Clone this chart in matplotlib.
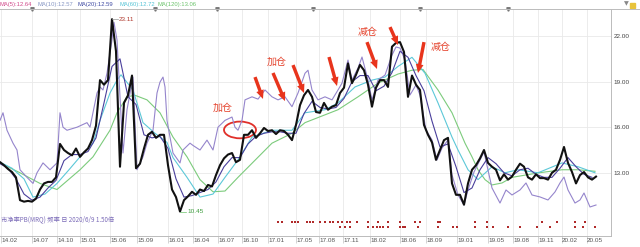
import matplotlib.pyplot as plt
import matplotlib.patches as mpatches
import matplotlib.transforms as mtransforms
import numpy as np

plt.rcParams['font.family'] = ['Noto Sans CJK SC', 'DejaVu Sans']

# 市净率 PB 主线 (每个点间隔 4 个单位)
pb = [13.7, 13.5, 13.25, 13.05, 12.7, 11.2, 11.1, 11.15, 11.1, 11.3,
      11.9, 12.3, 12.4, 12.4, 12.7, 14.9, 14.5, 14.3, 14.15, 14.6,
      14.05, 14.35, 14.6, 15.15, 16.1, 19.1, 18.8, 19.1, 23.11, 21.0,
      13.4, 17.6, 18.1, 19.4, 13.3, 13.6, 14.6, 15.5, 15.7, 15.3,
      15.5, 15.5, 13.5, 11.9, 11.4, 10.45, 11.2, 11.45, 11.75, 11.55,
      11.9, 11.8, 12.2, 12.1, 12.85, 13.5, 13.95, 14.2, 14.3, 13.7,
      13.85, 15.5, 15.5, 15.8, 15.3, 15.6, 15.95, 15.75, 15.8, 15.55,
      15.8, 15.75, 15.5, 15.15, 16.15, 17.45, 18.1, 18.45, 18.0, 17.0,
      16.95, 17.6, 17.15, 17.35, 17.45, 18.25, 18.6, 20.2, 18.9, 19.45,
      20.1, 19.75, 18.8, 17.35, 18.6, 19.1, 19.1, 18.65, 21.3, 21.55,
      21.6, 20.95, 18.0, 19.4, 18.8, 18.45, 16.15, 15.5, 15.0, 13.85,
      14.5, 15.15, 15.3, 12.3, 11.55, 11.55, 10.9, 12.3, 13.2, 13.5,
      13.95, 14.5, 13.65, 13.4, 13.2, 12.5, 12.9, 12.55, 12.75, 13.2,
      13.6, 13.4, 12.7, 12.55, 12.9, 12.65, 12.65, 12.55, 13.0, 13.2,
      13.85, 14.7, 13.65, 13.05, 12.3, 12.85, 13.05, 12.7, 12.55, 12.75]
t_pb = np.arange(len(pb)) * 4

# MA20 (每 8 个单位)
ma20 = [13.6, 13.3, 12.6, 11.6, 11.2, 11.4, 12.0, 12.5, 13.8, 14.2,
        14.2, 14.4, 15.3, 17.6, 20.0, 20.5, 18.0, 17.5, 15.5, 15.3,
        15.4, 14.6, 12.6, 11.4, 11.5, 11.7, 11.9, 12.4, 13.4, 14.0,
        14.0, 14.9, 15.4, 15.6, 15.7, 15.7, 15.6, 15.6, 16.9, 17.7,
        17.3, 17.2, 17.3, 17.9, 19.0, 19.4, 19.4, 18.4, 18.7, 19.6,
        21.0, 20.6, 19.4, 18.4, 16.4, 14.7, 14.9, 13.4, 11.7, 12.0,
        13.2, 14.0, 13.6, 13.0, 12.8, 13.2, 13.3, 12.9, 12.7, 12.7,
        13.3, 14.0, 13.4, 12.9, 12.7]
t_ma20 = np.arange(len(ma20)) * 8

t_ma60 = [0, 12, 24, 33, 45, 57, 69, 80, 93, 100,
          110, 117, 121, 133, 143, 155, 167, 173, 187, 200,
          213, 225, 238, 252, 272, 292, 305, 325, 338, 355,
          372, 385, 398, 412, 425, 438, 452, 458, 468, 478,
          492, 505, 518, 538, 562, 578, 595]
ma60 = [13.7, 13.3, 12.6, 11.4, 11.6, 12.3, 13.2, 14.05, 14.95, 16.45,
        18.25, 19.1, 19.45, 18.45, 16.3, 15.6, 15.0, 14.0, 12.7, 11.4,
        11.6, 12.7, 13.85, 15.35, 15.8, 15.8, 16.95, 17.15, 17.6, 18.65,
        19.1, 19.3, 20.0, 20.6, 19.55, 17.6, 15.35, 14.5, 13.2, 12.55,
        13.4, 13.0, 13.2, 13.0, 13.65, 13.4, 13.0]

t_ma120 = [0, 20, 40, 57, 80, 93, 110, 117, 127, 135,
           147, 160, 173, 187, 200, 213, 225, 238, 272, 292,
           305, 338, 358, 378, 398, 412, 423, 438, 452, 465,
           472, 478, 485, 492, 502, 512, 538, 562, 578, 595]
ma120 = [13.65, 13.0, 12.3, 11.9, 13.2, 14.05, 15.8, 16.95, 18.0, 18.1,
         17.8, 16.95, 15.35, 14.05, 12.55, 11.75, 11.8, 12.7, 14.95, 15.6,
         16.3, 17.15, 18.0, 18.9, 19.5, 19.75, 19.8, 18.45, 16.95, 14.95,
         14.05, 13.2, 12.55, 12.2, 12.33, 12.7, 12.99, 13.2, 13.2, 13.1]

# 指数 PB (浅紫线)
t_idx = [0, 3, 7, 13, 17, 20, 27, 33, 37, 43,
         50, 57, 60, 63, 67, 77, 87, 90, 97, 100,
         103, 107, 112, 114, 117, 120, 123, 127, 133, 137,
         143, 147, 153, 157, 160, 163, 165, 167, 170, 173,
         180, 183, 190, 193, 200, 207, 213, 218, 225, 232,
         235, 238, 242, 245, 252, 258, 265, 272, 278, 285,
         292, 298, 305, 308, 312, 318, 325, 332, 338, 342,
         348, 352, 358, 362, 368, 372, 378, 385, 392, 396,
         400, 405, 410, 416, 420, 426, 432, 437, 442, 448,
         452, 458, 464, 468, 474, 480, 484, 488, 492, 500,
         506, 512, 520, 526, 532, 540, 548, 555, 560, 564,
         568, 575, 580, 584, 590, 596]
idx_pb = [16.45, 16.95, 15.8, 14.95, 14.5, 13.2, 12.7, 12.3, 13.0, 13.65,
          13.2, 13.65, 16.95, 16.0, 15.8, 16.0, 16.3, 16.0, 18.25, 18.65,
          18.45, 19.55, 21.75, 22.9, 21.75, 18.0, 14.3, 17.15, 19.3, 13.2,
          14.05, 14.95, 15.8, 18.25, 18.97, 19.3, 18.65, 16.45, 15.35, 14.3,
          13.65, 14.5, 14.95, 14.8, 14.5, 15.15, 14.5, 16.0, 16.45, 16.67,
          16.0, 15.8, 16.45, 17.8, 18.0, 17.85, 18.45, 18.0, 17.8, 18.0,
          17.35, 18.25, 19.55, 19.75, 18.45, 17.8, 18.0, 17.8, 18.45, 18.9,
          20.42, 19.11, 19.89, 20.62, 19.11, 17.79, 19.11, 19.43, 20.75, 21.28,
          21.21, 20.42, 18.12, 18.78, 18.12, 15.82, 15.16, 13.84, 14.63, 15.16,
          12.86, 11.54, 10.88, 11.87, 13.05, 13.84, 14.37, 13.18, 12.0, 11.01,
          11.87, 11.54, 11.87, 12.33, 11.54, 11.41, 11.21, 11.74, 12.33, 12.72,
          11.87, 11.01, 11.21, 11.67, 10.75, 10.88]

# 底部信号点
sig_row1 = [278, 282, 292, 295, 298, 307, 310, 313, 320, 325, 330, 333, 338,
            342, 347, 350, 357, 368, 378, 388, 400, 415, 420, 438, 440, 475,
            487, 542, 557, 575, 585]
sig_row2 = [340, 345, 350, 368, 373, 377, 380, 383, 388, 400, 403, 405, 418,
            438, 453, 457, 475, 487, 493, 508, 520, 537, 550, 575, 583, 595]
top_marks = [32, 155, 217, 313, 420, 508]

tick_pos = [1, 32, 57, 80, 110, 137, 168, 193, 218, 242, 268, 296, 319, 343,
            370, 400, 426, 457, 488, 513, 538, 562, 587]
tick_labels = ['14.02', '14.07', '14.10', '15.01', '15.06', '15.09', '16.01',
               '16.04', '16.07', '16.10', '17.01', '17.05', '17.08', '17.11',
               '18.02', '18.06', '18.09', '19.01', '19.05', '19.08', '19.11',
               '20.02', '20.05']
y_ticks = [13, 16, 19, 22]

legend_text = ['MA(5):12.64', 'MA(10):12.57', 'MA(20):12.59', 'MA(60):12.72', 'MA(120):13.06']
legend_col = ['#d14a8b', '#8797c4', '#3f4aa3', '#55c4d6', '#6cc36c']

fig = plt.figure(figsize=(6.4, 2.47), dpi=100)
ax = fig.add_axes([0, 11 / 247, 611 / 640, 227 / 247])
ax.set_xlim(0, 611)
ax.set_ylim(8.84, 23.78)

ax.plot(t_ma120, ma120, color='#7ccb7c', lw=0.8)
ax.plot(t_ma60, ma60, color='#5cc8d8', lw=0.8)
ax.plot(t_idx, idx_pb, color='#9585cc', lw=0.8)
ax.plot(t_ma20, ma20, color='#4a3f9c', lw=0.8)
ax.plot(t_pb, pb, color='#111111', lw=1.5)

ax.plot(sig_row1, [9.76] * len(sig_row1), 's', ms=2.1, color='#b02a2a', mew=0)
ax.plot(sig_row2, [9.43] * len(sig_row2), 's', ms=2.1, color='#b02a2a', mew=0)
ax.plot(top_marks, [1] * len(top_marks), 'v', ms=2.5, color='#777777',
        transform=ax.get_xaxis_transform(), clip_on=False)

# 极值标注
ax.plot([112, 118], [23.11, 23.11], color='#999999', lw=0.5)
ax.text(119, 23.11, '23.11', fontsize=4.6, color='#b03a2e', va='center', family='Liberation Sans')
ax.plot([180, 186], [10.45, 10.45], color='#6cc36c', lw=0.5)
ax.text(187, 10.45, '10.45', fontsize=4.6, color='#3c9c3c', va='center', family='Liberation Sans')

# 红色箭头和文字
arrows = [(255, 19.30, 263, 17.86), (273, 19.57, 285, 17.72), (293, 20.09, 304, 18.25),
          (329, 20.62, 337, 18.71), (367, 21.6, 377, 19.83), (390, 22.59, 398, 21.41),
          (424, 21.6, 418, 19.57)]
for x0, y0, x1, y1 in arrows:
    ax.annotate('', xy=(x1, y1), xytext=(x0, y0),
                arrowprops=dict(arrowstyle='simple,head_length=0.9,head_width=0.8,tail_width=0.35',
                                color='#e8341c', lw=0, shrinkA=0, shrinkB=0, mutation_scale=7))
notes = [(223, 17.26, '加仓'), (277, 20.29, '加仓'), (368, 22.26, '减仓'), (441, 21.28, '减仓')]
for x, y, s in notes:
    ax.text(x, y, s, fontsize=7.2, color='#e5452f', ha='center', va='center')
ax.add_patch(mpatches.Ellipse((240, 15.82), 32, 1.1, fill=False, ec='#e0302a', lw=1.3))

ax.text(1, 9.95, '市净率PB(MRQ) 频率 日 2020/6/9 1.50倍', fontsize=4.5,
        color='#7b6bb8', va='center')

# 坐标轴
ax.set_xticks(tick_pos)
ax.set_xticklabels(tick_labels, fontsize=4.6, color='#555555', ha='left', family='Liberation Sans')
offset = mtransforms.ScaledTranslation(2 / 100, 0, fig.dpi_scale_trans)
for lab in ax.get_xticklabels():
    lab.set_transform(lab.get_transform() + offset)
ax.tick_params(axis='x', direction='out', length=5, width=0.6, color='#cccccc', pad=-3.5)
ax.yaxis.tick_right()
ax.set_yticks(y_ticks)
ax.set_yticklabels(['%.2f' % v for v in y_ticks], fontsize=4.6, color='#444444', family='Liberation Sans')
ax.tick_params(axis='y', length=0, pad=2)
ax.grid(True, color='#e9e9e9', lw=0.6)
ax.set_axisbelow(True)
ax.spines['left'].set_visible(False)
for side in ['top', 'bottom', 'right']:
    ax.spines[side].set_color('#bbbbbb')
    ax.spines[side].set_linewidth(0.7)
fig.add_artist(plt.Line2D([611 / 640, 1], [1 - 9 / 247] * 2, color='#bbbbbb', lw=0.7))

# 顶部均线图例
xs = [0, 37, 77, 120, 158]
for x, s, c in zip(xs, legend_text, legend_col):
    fig.text(x / 640, 1 - 4.5 / 247, s, fontsize=4.2, color=c, va='center', family='Liberation Sans')
fig.text(626 / 640, 1 - 4 / 247, '▼', fontsize=4.5, color='#888888', ha='center', va='center',
         family='DejaVu Sans')
fig.add_artist(mpatches.Rectangle((630 / 640, 1 - 8 / 247), 5 / 640, 5 / 247, color='#e8c33a',
                                  transform=fig.transFigure))

fig.savefig('out.png', dpi=100)
